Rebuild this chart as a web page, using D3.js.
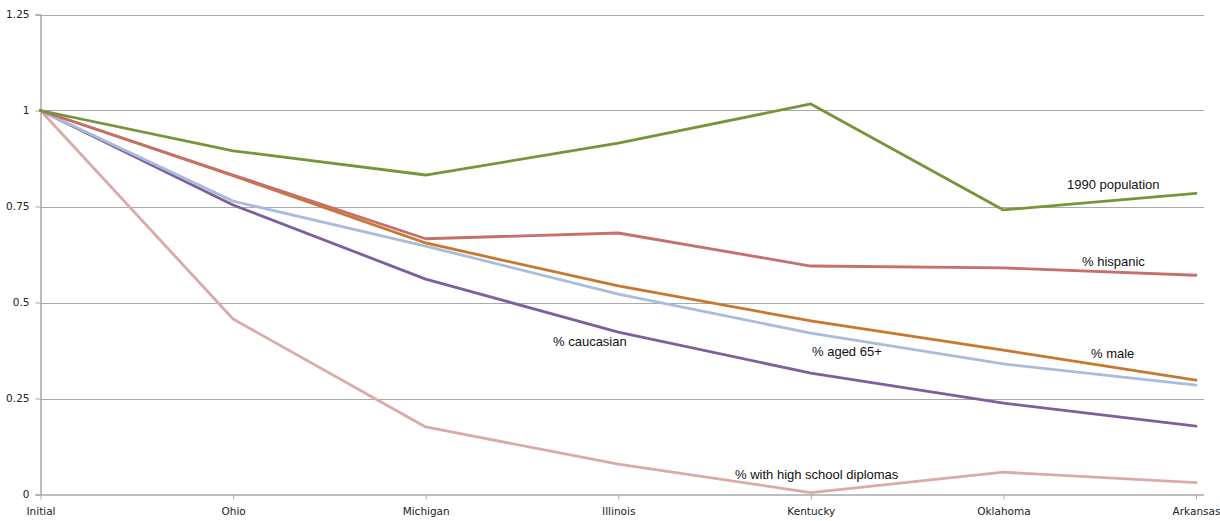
<!DOCTYPE html>
<html>
<head>
<meta charset="utf-8">
<script src="https://cdn.jsdelivr.net/npm/d3@7"></script>
<style>
  html, body { margin: 0; padding: 0; background: #fff; }
  svg { display: block; }
</style>
</head>
<body>
<svg id="chart" width="1220" height="521"></svg>
<script>
// Categories along the x axis
const categories = ["Initial", "Ohio", "Michigan", "Illinois", "Kentucky", "Oklahoma", "Arkansas"];

// Y-axis tick values and labels
const yTicks = [0, 0.25, 0.5, 0.75, 1, 1.25];
const yTickLabels = ["0", "0.25", "0.5", "0.75", "1", "1.25"];

// Series values (relative to the initial value)
const pop1990    = [1, 0.895, 0.832, 0.915, 1.017, 0.741, 0.784];
const hispanic   = [1, 0.832, 0.666, 0.681, 0.595, 0.590, 0.571];
const male       = [1, 0.830, 0.655, 0.543, 0.452, 0.376, 0.298];
const aged65     = [1, 0.764, 0.647, 0.522, 0.420, 0.340, 0.285];
const caucasian  = [1, 0.754, 0.561, 0.423, 0.316, 0.238, 0.178];
const highSchool = [1, 0.457, 0.176, 0.079, 0.005, 0.058, 0.031];

// Series definitions: name, data, colour, label anchor (category index, value offset in px)
const series = [
  { name: "% with high school diplomas", values: highSchool, color: "#d9aaa8", label: { x: 735, y: 479 } },
  { name: "% caucasian", values: caucasian, color: "#7c5f9c", label: { x: 553, y: 346 } },
  { name: "% aged 65+", values: aged65, color: "#a9bcda", label: { x: 812, y: 356 } },
  { name: "% male", values: male, color: "#c9772f", label: { x: 1091, y: 358 } },
  { name: "% hispanic", values: hispanic, color: "#c66f6d", label: { x: 1082, y: 266 } },
  { name: "1990 population", values: pop1990, color: "#779439", label: { x: 1067, y: 189 } }
];

const svg = d3.select("#chart");
const plot = { left: 40.5, right: 1204, top: 14.5, bottom: 494.5 };

const x = d3.scalePoint().domain(categories).range([plot.left, 1196]);
const y = d3.scaleLinear().domain([0, 1.25]).range([plot.bottom, plot.top]);

const gridColor = "#a9a9a9";

// Horizontal gridlines
svg.append("g")
  .selectAll("line")
  .data(yTicks.filter(d => d > 0))
  .join("line")
  .attr("x1", plot.left).attr("x2", plot.right)
  .attr("y1", d => Math.round(y(d)) + 0.5).attr("y2", d => Math.round(y(d)) + 0.5)
  .attr("stroke", gridColor).attr("stroke-width", 1);

// Y axis
const yAxis = d3.axisLeft(y)
  .tickValues(yTicks)
  .tickFormat((d, i) => yTickLabels[i])
  .tickSize(5)
  .tickPadding(6);
const gy = svg.append("g")
  .attr("transform", `translate(${plot.left},0)`)
  .call(yAxis);
gy.select(".domain").attr("stroke", gridColor).attr("stroke-width", 1.5);
gy.selectAll(".tick line").attr("stroke", gridColor);
gy.selectAll(".tick text")
  .attr("fill", "#222")
  .style("font-family", "'DejaVu Sans', Verdana, sans-serif")
  .style("font-size", "10.5px");

// X axis
const xAxis = d3.axisBottom(x).tickSize(5).tickPadding(8).tickSizeOuter(0);
const gx = svg.append("g")
  .attr("transform", `translate(0,${plot.bottom})`)
  .call(xAxis);
gx.select(".domain")
  .attr("d", `M${plot.left},0.5H${plot.right}`)
  .attr("stroke", gridColor).attr("stroke-width", 1.5);
gx.selectAll(".tick line").attr("stroke", gridColor);
gx.selectAll(".tick text")
  .attr("fill", "#222")
  .style("font-family", "'DejaVu Sans', Verdana, sans-serif")
  .style("font-size", "10.5px");

// Lines
const line = d3.line()
  .x((d, i) => x(categories[i]))
  .y(d => y(d));

svg.append("g")
  .selectAll("path")
  .data(series)
  .join("path")
  .attr("d", d => line(d.values))
  .attr("fill", "none")
  .attr("stroke", d => d.color)
  .attr("stroke-width", 2.8)
  .attr("stroke-linejoin", "round")
  .attr("stroke-linecap", "round");

// Series labels
svg.append("g")
  .selectAll("text")
  .data(series)
  .join("text")
  .attr("x", d => d.label.x)
  .attr("y", d => d.label.y)
  .attr("fill", "#111")
  .style("font-family", "'Liberation Sans', Arial, sans-serif")
  .style("font-size", "13px")
  .text(d => d.name);
</script>
</body>
</html>
